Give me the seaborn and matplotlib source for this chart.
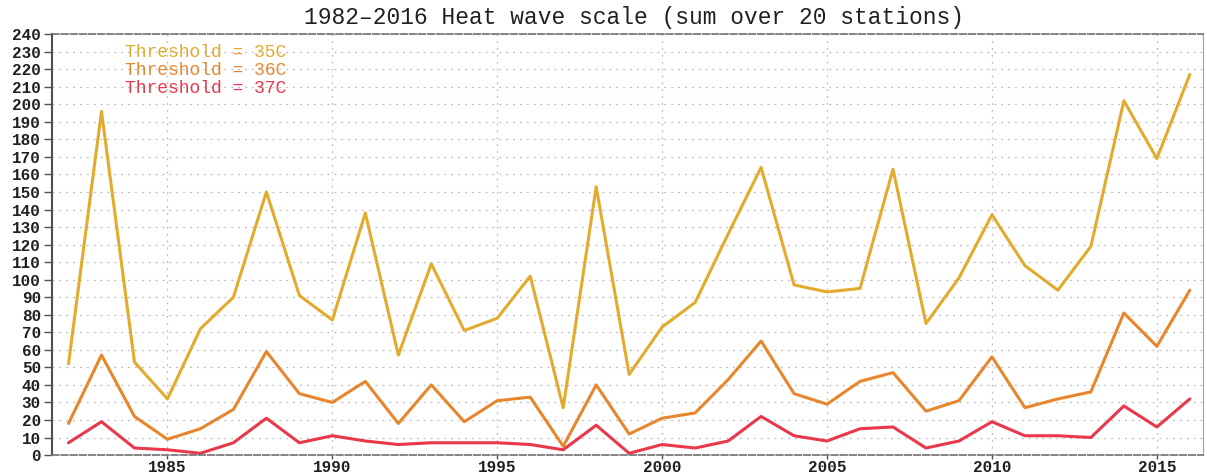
import numpy as np
import pandas as pd
import matplotlib
matplotlib.use("Agg")
import matplotlib.pyplot as plt
import seaborn as sns

years = list(range(1982, 2017))
t35 = [52, 196, 53, 32, 72, 90, 150, 91, 77, 138, 57, 109, 71, 78, 102, 27, 153, 46,
       73, 87, 126, 164, 97, 93, 95, 163, 75, 101, 137, 108, 94, 119, 202, 169, 217]
t36 = [18, 57, 22, 9, 15, 26, 59, 35, 30, 42, 18, 40, 19, 31, 33, 5, 40, 12,
       21, 24, 43, 65, 35, 29, 42, 47, 25, 31, 56, 27, 32, 36, 81, 62, 94]
t37 = [7, 19, 4, 3, 1, 7, 21, 7, 11, 8, 6, 7, 7, 7, 6, 3, 17, 1,
       6, 4, 8, 22, 11, 8, 15, 16, 4, 8, 19, 11, 11, 10, 28, 16, 32]
labels = ["Threshold = 35C", "Threshold = 36C", "Threshold = 37C"]
colors = ["#e3ab2e", "#e8862e", "#e8384a"]

df = pd.concat([
    pd.DataFrame({"year": years, "value": vals, "series": lab})
    for vals, lab in zip([t35, t36, t37], labels)
])

sns.set_theme(style="white")
plt.rcParams["font.family"] = ["Liberation Mono", "DejaVu Sans"]

fig = plt.figure(figsize=(12.07, 4.74), dpi=100)
ax = fig.add_axes([0.0431, 0.040, 0.9536, 0.888])

sns.lineplot(data=df, x="year", y="value", hue="series", palette=colors,
             hue_order=labels, linewidth=2.2, legend=False, ax=ax)

ax.set_xlim(1981.5, 2016.4)
ax.set_ylim(0, 240)
ax.set_yticks(np.arange(0, 241, 10))
ax.set_xticks(np.arange(1985, 2016, 5))
ax.set_xlabel("")
ax.set_ylabel("")

ax.grid(True, which="major", axis="both", color="#bcbcbc", linestyle=(0, (1.5, 4)),
        linewidth=0.9)

for side in ("top", "bottom"):
    ax.spines[side].set_linestyle((0, (4, 1.5)))
    ax.spines[side].set_color("#707070")
    ax.spines[side].set_linewidth(1.2)
ax.spines["left"].set_color("#505050")
ax.spines["left"].set_linewidth(1.5)
ax.spines["right"].set_color("#a0a0a0")
ax.spines["right"].set_linewidth(0.8)

ax.tick_params(axis="y", which="major", length=6, width=1, color="#505050",
               labelsize=11.5, pad=2, left=True)
ax.tick_params(axis="x", which="major", length=3, width=1, color="#505050",
               labelsize=11.5, pad=0.5, bottom=True)
for lab in ax.get_xticklabels() + ax.get_yticklabels():
    lab.set_fontweight("bold")
    lab.set_color("#202020")

for i, (lab, col) in enumerate(zip(labels, colors)):
    ax.text(0.0634, 0.957 - i * 0.0425, lab, transform=ax.transAxes, color=col,
            fontsize=13, va="center", ha="left")

fig.text(0.525, 0.963, "1982\u20132016 Heat wave scale (sum over 20 stations)",
         ha="center", va="center", fontsize=16.5, color="#202020")

fig.savefig("out.png", dpi=100)
